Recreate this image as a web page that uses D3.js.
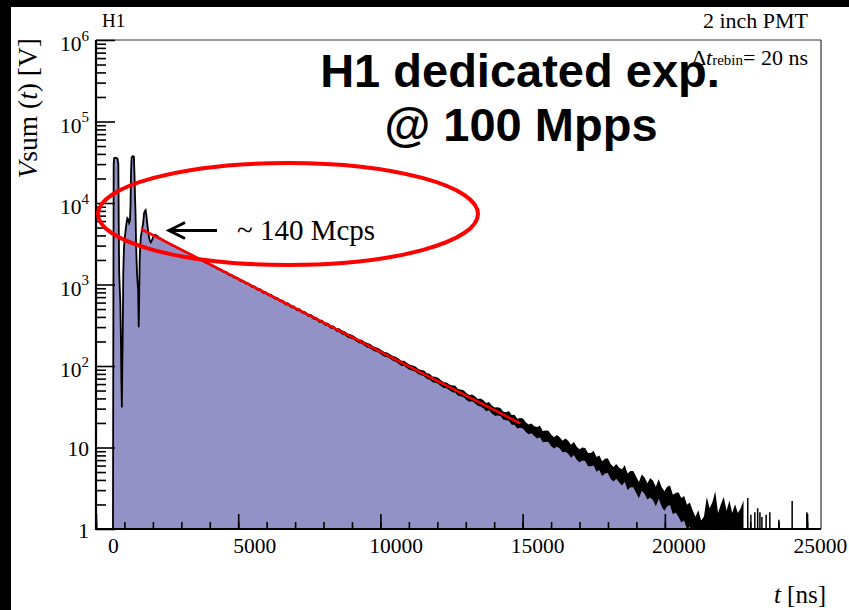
<!DOCTYPE html>
<html><head><meta charset="utf-8">
<script src="https://cdn.jsdelivr.net/npm/d3@7"></script>
<style>body{margin:0;background:#fff;} svg{display:block;}</style>
</head><body><svg id="c" width="849" height="610"></svg>
<script>
// ---- data ----
const earlyT = [0,10,25,40,80,120,160,190,205,220,240,260,280,300,315,330,345,365,390,420,450,480,510,540,570,600,620,640,660,700,740,760,780,800,815,830,850,870,890,910,925,945,965,985,1010,1040,1070,1100,1130,1155,1180,1210,1240,1270,1300,1340,1380,1420,1460,1500,1540,1580,1620,1660];
const earlyV = [1,85,30000,35500,36000,35500,35000,30000,5000,1400,900,600,230,60,31,100,230,1400,2900,3800,4700,5700,6500,6300,5700,6100,9000,25000,36000,37500,37000,23000,12000,7000,3500,2200,1400,1050,860,300,600,2000,3000,3830,4300,5000,5800,7500,8000,8200,7200,5700,4600,3900,3500,3300,3500,3800,4000,4050,4000,3900,3780,3700];
const decayStart = 1700, binWidth = 100;
const decayV = [3650,3450,3300,
 3170,3010,2930,2780,2690,2560,2480,2360,2290,2170,
 2110,2000,1945,1845,1790,1700,1650,1565,1520,1440,
 1410,1320,1295,1215,1195,1120,1100,1035,1015,950,
 935,875,865,805,795,745,735,685,675,632,
 622,582,575,535,530,492,489,455,450,418,
 414,386,382,354,352,327,325,300,299,277,
 275,258,252,236,231,224,211,201,198,187,
 179,175,164,159,155,146,139,137,131,124,
 121,115,108,108,101,96,94.4,91.4,85.3,82.8,
 81.3,75.1,73.9,68.5,67.7,65.9,61.5,58.3,57.9,54.6,
 52.3,52.2,47.4,46.9,45.7,42.3,40.0,40.6,38.5,35.8,
 35.7,33.9,31.3,32.2,29.3,27.6,27.8,27.3,24.7,24.2,
 24.4,21.8,21.9,19.6,20.0,19.7,17.8,16.7,17.2,15.9,
 15.2,15.7,13.6,13.8,13.7,12.2,11.4,12.1,11.4,10.3,
 10.7,10.1,9.0,9.7,8.5,7.9,8.3,8.2,7.1,7.1,
 7.4,6.2,6.5,5.5,5.9,6.0,5.1,4.7,5.1,4.6,
 4.3,4.8,3.8,4.1,4.1,3.5,3.0,3.7,3.4,2.9,
 3.2,2.96,2.5,3.1,2.5,2.2,2.5,2.6,2.0,2.1,
 2.0,1.7,1.8,1.4,1.5,1.2,1.0,1.2,0.9,1.0,
 1.1,0.8,0.95,1.3,0.7,0.9,1.1,0.75,1.0,0.7,
 0.9,0.7,0.8,1.0];
// half-width of the error band (decades), per 1000 ns
const errDec = [0.006,0.006,0.01,0.012,0.014,0.016,0.018,0.02,0.025,0.028,0.032,0.036,0.042,0.05,0.06,0.07,0.08,0.09,0.1,0.12,0.15,0.35,0.35,0.35,0.35];
const spikeT = [22450,22560,22700,22800,22880,22950,23100,23230,23550,24020,24540];
const spikeV = [2.4,1.5,1.6,1.8,1.6,1.4,1.5,1.6,1.3,2.2,1.6];
const fitT = [990, 14400];
const fitV = [4800, 19.8];
const xTickLabels = [0,5000,10000,15000,20000,25000];
const yTickLabels = [1,10,100,1000,10000,100000,1000000];

// ---- drawing ----
const svg = d3.select("#c");
const serif = "'Liberation Serif','Times New Roman',serif";
const L = 96, R = 821, T = 40, B = 529;

svg.append("rect").attr("width",849).attr("height",610).attr("fill","#fff");
svg.append("rect").attr("x",0).attr("y",0).attr("width",11).attr("height",610).attr("fill","#000");
svg.append("rect").attr("x",0).attr("y",0).attr("width",849).attr("height",7).attr("fill","#000");

const x = d3.scaleLinear().domain([-600, 25040]).range([L, R]);
const xt = d3.scaleLinear().domain([0, 25490]).range([L, R]);
const y = d3.scaleLog().domain([1, 1e6]).range([B, T]);

svg.append("clipPath").attr("id","clip").append("rect")
  .attr("x",L).attr("y",T).attr("width",R-L).attr("height",B-T);

const pts = earlyT.map((t,i)=>({t, v: earlyV[i]}))
  .concat(decayV.map((v,i)=>({t: decayStart + i*binWidth, v})));
const eOf = t => errDec[Math.min(errDec.length-1, Math.max(0, Math.floor(t/1000)))];
const yc = v => y(Math.max(v, 0.3));

const plot = svg.append("g").attr("clip-path","url(#clip)");
plot.append("path").datum(pts)
  .attr("d", d3.area().x(d=>x(d.t)).y0(y(1)).y1(d=>yc(d.v)))
  .attr("fill","#9292c6");
plot.append("path").datum(pts)
  .attr("d", d3.area().x(d=>x(d.t))
     .y0(d=>yc(d.v*Math.pow(10,-eOf(d.t))))
     .y1(d=>yc(d.v*Math.pow(10,eOf(d.t)))))
  .attr("fill","#000");
plot.append("path").datum(pts)
  .attr("d", d3.line().x(d=>x(d.t)).y(d=>yc(d.v)))
  .attr("fill","none").attr("stroke","#000").attr("stroke-width",1.8);
plot.selectAll(".spike").data(spikeT.map((t,i)=>({t, v: spikeV[i]}))).enter()
  .append("line").attr("x1",d=>x(d.t)).attr("x2",d=>x(d.t))
  .attr("y1",y(1)).attr("y2",d=>y(d.v)).attr("stroke","#000").attr("stroke-width",1.5);
plot.append("path").datum(fitT.map((t,i)=>({t, v: fitV[i]})))
  .attr("d", d3.line().x(d=>x(d.t)).y(d=>y(d.v)))
  .attr("fill","none").attr("stroke","#ff0000").attr("stroke-width",2.6);

// frame
svg.append("line").attr("x1",L).attr("x2",R).attr("y1",T).attr("y2",T).attr("stroke","#333").attr("stroke-width",1.2);
svg.append("line").attr("x1",R).attr("x2",R).attr("y1",T).attr("y2",B).attr("stroke","#333").attr("stroke-width",1.2);

// x axis ticks
const gxMinor = svg.append("g").attr("transform",`translate(0,${B})`)
  .call(d3.axisBottom(xt).tickValues(d3.range(0,25001,1000)).tickSize(-7).tickFormat(""));
const gxMajor = svg.append("g").attr("transform",`translate(0,${B})`)
  .call(d3.axisBottom(xt).tickValues(xTickLabels).tickSize(-15).tickFormat(""));
const gxLab = svg.append("g").attr("transform",`translate(0,${B})`)
  .call(d3.axisBottom(x).tickValues(xTickLabels).tickSize(0).tickFormat(d3.format("d")));
[gxMinor,gxMajor,gxLab].forEach(g=>{g.select(".domain").remove(); g.selectAll("line").attr("stroke","#000").attr("stroke-width",1.6);});
gxLab.selectAll("text").attr("y",24).attr("dy",0).attr("font-family",serif).attr("font-size",21.5).attr("fill","#000");

// y axis
const yMinor = [];
for (let k=0;k<6;k++) for (let m=2;m<=9;m++) yMinor.push(m*Math.pow(10,k));
const gyMinor = svg.append("g").attr("transform",`translate(${L},0)`)
  .call(d3.axisLeft(y).tickValues(yMinor).tickSize(-10).tickFormat(""));
const gyMajor = svg.append("g").attr("transform",`translate(${L},0)`)
  .call(d3.axisLeft(y).tickValues(yTickLabels).tickSize(-19).tickFormat(""));
[gyMinor,gyMajor].forEach(g=>{g.select(".domain").remove(); g.selectAll("line").attr("stroke","#000").attr("stroke-width",1.6);});
gyMajor.selectAll(".tick").each(function(d){
  const k = Math.round(Math.log10(d));
  const t = d3.select(this).append("text").attr("x",-7).attr("text-anchor","end")
    .attr("font-family",serif).attr("fill","#000");
  if (k < 2) {
    t.attr("y",8).attr("font-size",21.5).text(String(d));
  } else {
    t.attr("y",10.5).attr("font-size",21.5);
    t.append("tspan").text("10");
    t.append("tspan").attr("font-size",15).attr("dy",-10.5).text(String(k));
  }
});

// axis lines (thick)
svg.append("line").attr("x1",L).attr("x2",L).attr("y1",T).attr("y2",B+1).attr("stroke","#000").attr("stroke-width",2.2);
svg.append("line").attr("x1",L-1).attr("x2",R).attr("y1",B).attr("y2",B).attr("stroke","#000").attr("stroke-width",2.2);

// axis titles
const yt = svg.append("text").attr("transform","translate(37,38) rotate(-90)").attr("text-anchor","end")
  .attr("font-family",serif).attr("font-size",27.5).attr("fill","#000");
yt.append("tspan").attr("font-style","italic").text("V");
yt.append("tspan").text("sum (");
yt.append("tspan").attr("font-style","italic").text("t");
yt.append("tspan").text(") [V]");
const xtT = svg.append("text").attr("x",826).attr("y",603).attr("text-anchor","end")
  .attr("font-family",serif).attr("font-size",25).attr("fill","#000");
xtT.append("tspan").attr("font-style","italic").text("t");
xtT.append("tspan").text(" [ns]");

// labels
svg.append("text").attr("x",102).attr("y",27).attr("font-family",serif).attr("font-size",19).text("H1");
svg.append("text").attr("x",808).attr("y",28).attr("text-anchor","end").attr("font-family",serif).attr("font-size",22).text("2 inch PMT");
const dt = svg.append("text").attr("x",808).attr("y",65).attr("text-anchor","end").attr("font-family",serif).attr("font-size",22).attr("fill","#000");
dt.append("tspan").text("Δ");
dt.append("tspan").attr("font-style","italic").text("t");
dt.append("tspan").attr("font-size",15).text("rebin");
dt.append("tspan").text("= 20 ns");

// annotation
svg.append("ellipse").attr("cx",288).attr("cy",214).attr("rx",190).attr("ry",51)
  .attr("fill","none").attr("stroke","#ff0000").attr("stroke-width",4);
svg.append("line").attr("x1",169).attr("x2",217).attr("y1",230.5).attr("y2",230.5).attr("stroke","#000").attr("stroke-width",3);
svg.append("path").attr("d","M185,222.5 L169,230.5 L185,238.5").attr("fill","none").attr("stroke","#000").attr("stroke-width",3);
svg.append("text").attr("x",237).attr("y",240).attr("font-family",serif).attr("font-size",29).text("~ 140 Mcps");

// bold title
const sans = "'Liberation Sans',Arial,Helvetica,sans-serif";
svg.append("text").attr("x",520).attr("y",87).attr("text-anchor","middle").attr("font-family",sans)
  .attr("font-weight","bold").attr("font-size",47).text("H1 dedicated exp.");
svg.append("text").attr("x",521).attr("y",141).attr("text-anchor","middle").attr("font-family",sans)
  .attr("font-weight","bold").attr("font-size",47).text("@ 100 Mpps");
</script></body></html>
